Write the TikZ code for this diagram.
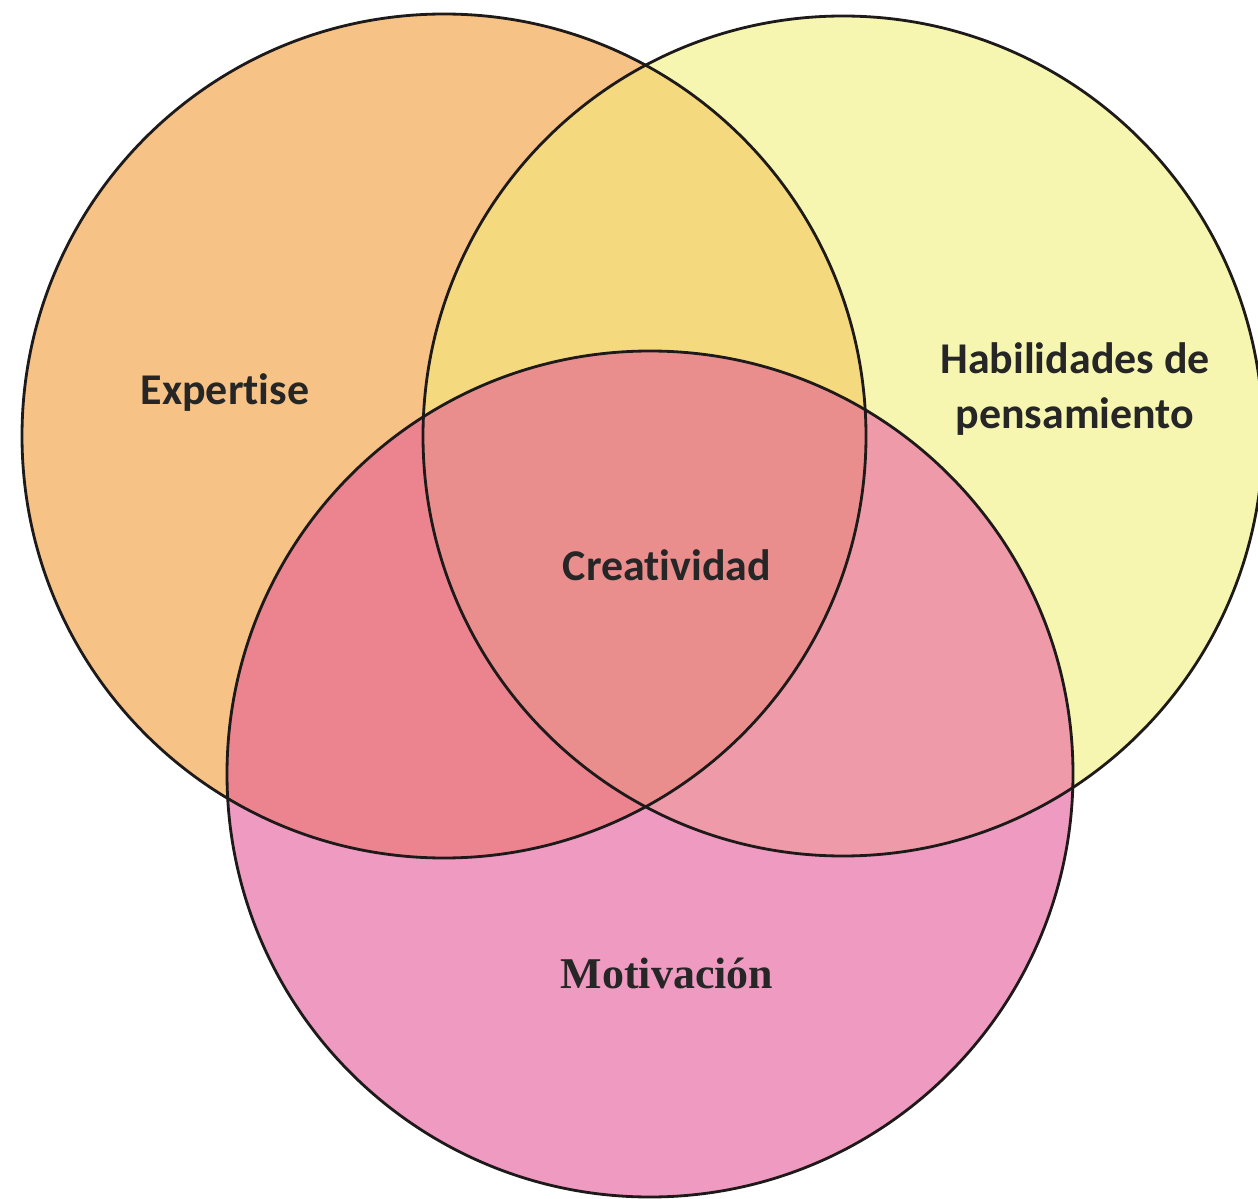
\documentclass[tikz,border=0pt]{standalone}
\usepackage{fontspec}
\setmainfont{Liberation Serif}
\newfontfamily\calfont[Ligatures={NoCommon}]{Carlito}
\definecolor{expcolor}{HTML}{F6C285}
\definecolor{habcolor}{HTML}{F6F6B0}
\definecolor{motcolor}{HTML}{EF9AC1}
\definecolor{ehcolor}{HTML}{F5D97E}
\definecolor{emcolor}{HTML}{EC848F}
\definecolor{hmcolor}{HTML}{EE9AA8}
\definecolor{allcolor}{HTML}{EA8D8D}
\definecolor{rimcolor}{HTML}{1E1A1A}

\begin{document}
\begin{tikzpicture}[x=0.02cm, y=0.02cm,
    rim/.style={draw=rimcolor, line width=1.6pt},
    sanslabel/.style={font=\calfont\bfseries\fontsize{25}{31}\selectfont, text=black!85, align=center},
    seriflabel/.style={font=\bfseries\fontsize{25}{30}\selectfont, text=black!85}]

    \useasboundingbox (0,-1199) rectangle (1258,0);

    \def\expcircle{(444,-436) circle (422)}
    \def\habcircle{(843,-436) circle (420)}
    \def\motcircle{(650,-774) circle (423)}

    % plain discs
    \fill[expcolor] \expcircle;
    \fill[habcolor] \habcircle;
    \fill[motcolor] \motcircle;

    % two-way overlaps
    \begin{scope}
        \clip \expcircle;
        \fill[ehcolor] \habcircle;
        \fill[emcolor] \motcircle;
    \end{scope}
    \begin{scope}
        \clip \habcircle;
        \fill[hmcolor] \motcircle;
    \end{scope}

    % middle piece
    \begin{scope}
        \clip \expcircle;
        \clip \habcircle;
        \fill[allcolor] \motcircle;
    \end{scope}

    \draw[rim] \expcircle;
    \draw[rim] \habcircle;
    \draw[rim] \motcircle;

    \node[sanslabel] (expertise) at (225,-393) {Expertise};
    \node[sanslabel] (habilidades) at (1075,-389) {Habilidades de\\pensamiento};
    \node[sanslabel] (creatividad) at (667,-565) {Creatividad};
    \node[seriflabel] (motivacion) at (667,-973) {Motivación};
\end{tikzpicture}
\end{document}
